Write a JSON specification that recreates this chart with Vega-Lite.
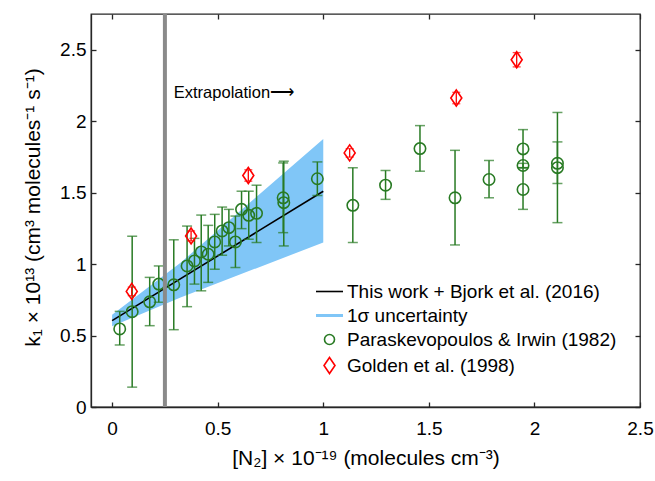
{
  "$schema": "https://vega.github.io/schema/vega-lite/v6.json",
  "width": 549,
  "height": 393,
  "autosize": {"type": "none"},
  "padding": {"left": 91, "top": 14, "right": 15, "bottom": 74},
  "background": "white",
  "config": {
    "font": "Liberation Sans",
    "view": {"stroke": "#262626", "strokeWidth": 1.3},
    "axis": {
      "grid": false,
      "domainColor": "#262626",
      "domainWidth": 1.3,
      "tickColor": "#262626",
      "tickWidth": 1.3,
      "tickSize": -5,
      "labelFontSize": 19,
      "labelColor": "#000000",
      "labelFont": "Liberation Sans",
      "titleFont": "Liberation Sans",
      "titleFontSize": 21,
      "titleFontWeight": "normal",
      "titleColor": "#000000",
      "labelFlush": false,
      "labelOverlap": false,
      "labelBound": false
    }
  },
  "datasets": {
    "green": [
      {"x": 0.036, "y": 0.546, "lo": 0.434, "hi": 0.669, "series": "Paraskevopoulos & Irwin (1982)"},
      {"x": 0.095, "y": 0.667, "lo": 0.139, "hi": 1.195, "series": "Paraskevopoulos & Irwin (1982)"},
      {"x": 0.178, "y": 0.736, "lo": 0.569, "hi": 0.907, "series": "Paraskevopoulos & Irwin (1982)"},
      {"x": 0.221, "y": 0.86, "lo": 0.733, "hi": 0.987, "series": "Paraskevopoulos & Irwin (1982)"},
      {"x": 0.292, "y": 0.855, "lo": 0.541, "hi": 1.17, "series": "Paraskevopoulos & Irwin (1982)"},
      {"x": 0.355, "y": 0.987, "lo": 0.702, "hi": 1.266, "series": "Paraskevopoulos & Irwin (1982)"},
      {"x": 0.39, "y": 1.022, "lo": 0.86, "hi": 1.18, "series": "Paraskevopoulos & Irwin (1982)"},
      {"x": 0.422, "y": 1.085, "lo": 0.813, "hi": 1.343, "series": "Paraskevopoulos & Irwin (1982)"},
      {"x": 0.455, "y": 1.069, "lo": 0.872, "hi": 1.271, "series": "Paraskevopoulos & Irwin (1982)"},
      {"x": 0.486, "y": 1.155, "lo": 0.964, "hi": 1.348, "series": "Paraskevopoulos & Irwin (1982)"},
      {"x": 0.521, "y": 1.232, "lo": 1.062, "hi": 1.399, "series": "Paraskevopoulos & Irwin (1982)"},
      {"x": 0.553, "y": 1.255, "lo": 1.127, "hi": 1.383, "series": "Paraskevopoulos & Irwin (1982)"},
      {"x": 0.584, "y": 1.155, "lo": 0.976, "hi": 1.336, "series": "Paraskevopoulos & Irwin (1982)"},
      {"x": 0.613, "y": 1.383, "lo": 1.248, "hi": 1.51, "series": "Paraskevopoulos & Irwin (1982)"},
      {"x": 0.647, "y": 1.341, "lo": 1.174, "hi": 1.51, "series": "Paraskevopoulos & Irwin (1982)"},
      {"x": 0.684, "y": 1.355, "lo": 1.151, "hi": 1.552, "series": "Paraskevopoulos & Irwin (1982)"},
      {"x": 0.81, "y": 1.464, "lo": 1.22, "hi": 1.708, "series": "Paraskevopoulos & Irwin (1982)"},
      {"x": 0.813, "y": 1.43, "lo": 1.127, "hi": 1.72, "series": "Paraskevopoulos & Irwin (1982)"},
      {"x": 0.972, "y": 1.597, "lo": 1.48, "hi": 1.715, "series": "Paraskevopoulos & Irwin (1982)"},
      {"x": 1.14, "y": 1.411, "lo": 1.151, "hi": 1.674, "series": "Paraskevopoulos & Irwin (1982)"},
      {"x": 1.295, "y": 1.552, "lo": 1.453, "hi": 1.655, "series": "Paraskevopoulos & Irwin (1982)"},
      {"x": 1.458, "y": 1.808, "lo": 1.65, "hi": 1.969, "series": "Paraskevopoulos & Irwin (1982)"},
      {"x": 1.624, "y": 1.464, "lo": 1.134, "hi": 1.796, "series": "Paraskevopoulos & Irwin (1982)"},
      {"x": 1.785, "y": 1.592, "lo": 1.464, "hi": 1.725, "series": "Paraskevopoulos & Irwin (1982)"},
      {"x": 1.946, "y": 1.806, "lo": 1.674, "hi": 1.941, "series": "Paraskevopoulos & Irwin (1982)"},
      {"x": 1.946, "y": 1.69, "lo": 1.675, "hi": 1.705, "series": "Paraskevopoulos & Irwin (1982)"},
      {"x": 1.946, "y": 1.522, "lo": 1.383, "hi": 1.674, "series": "Paraskevopoulos & Irwin (1982)"},
      {"x": 2.109, "y": 1.705, "lo": 1.564, "hi": 1.855, "series": "Paraskevopoulos & Irwin (1982)"},
      {"x": 2.109, "y": 1.675, "lo": 1.29, "hi": 2.061, "series": "Paraskevopoulos & Irwin (1982)"}
    ],
    "red": [
      {"x": 0.093, "y": 0.809, "lo": 0.779, "hi": 0.839, "series": "Golden et al. (1998)"},
      {"x": 0.374, "y": 1.197, "lo": 1.162, "hi": 1.232, "series": "Golden et al. (1998)"},
      {"x": 0.645, "y": 1.62, "lo": 1.58, "hi": 1.66, "series": "Golden et al. (1998)"},
      {"x": 1.125, "y": 1.778, "lo": 1.748, "hi": 1.808, "series": "Golden et al. (1998)"},
      {"x": 1.63, "y": 2.162, "lo": 2.122, "hi": 2.202, "series": "Golden et al. (1998)"},
      {"x": 1.916, "y": 2.43, "lo": 2.38, "hi": 2.48, "series": "Golden et al. (1998)"}
    ],
    "fit": [
      {"x": 0, "y": 0.604, "series": "This work + Bjork et al. (2016)"},
      {"x": 1, "y": 1.51, "series": "This work + Bjork et al. (2016)"}
    ],
    "band": [
      {"x": 0, "lo": 0.565, "hi": 0.645, "series": "1σ uncertainty"},
      {"x": 0.324, "lo": 0.767, "hi": 1.01, "series": "1σ uncertainty"},
      {"x": 1, "lo": 1.151, "hi": 1.876, "series": "1σ uncertainty"}
    ],
    "marker": [{"x": 0.25}],
    "note": [{"x": 0.292, "y": 2.2, "label": "Extrapolation⟶"}]
  },
  "resolve": {"axis": {"x": "independent", "y": "independent"}},
  "layer": [
    {
      "data": {"name": "band"},
      "mark": {"type": "area", "opacity": 1},
      "encoding": {
        "x": {
          "field": "x", "type": "quantitative",
          "scale": {"domain": [-0.1, 2.5], "nice": false, "zero": false},
          "axis": {"values": [0, 0.5, 1, 1.5, 2, 2.5], "format": "~g", "title": "[N₂] × 10⁻¹⁹ (molecules cm⁻³)", "labelPadding": 17, "titleY": 40}
        },
        "y": {
          "field": "lo", "type": "quantitative",
          "scale": {"domain": [0, 2.75], "nice": false, "zero": false},
          "axis": {"values": [0, 0.5, 1, 1.5, 2, 2.5], "format": "~g", "title": "k₁ × 10¹³ (cm³ molecules⁻¹ s⁻¹)", "labelPadding": 10, "titleX": -48, "titleY": 193}
        },
        "y2": {"field": "hi"},
        "color": {
          "field": "series", "type": "nominal",
          "scale": {
            "domain": ["This work + Bjork et al. (2016)", "1σ uncertainty", "Paraskevopoulos & Irwin (1982)", "Golden et al. (1998)"],
            "range": ["#000000", "#80c6f7", "#287a23", "#ff0000"]
          },
          "legend": {
            "orient": "none",
            "legendX": 229,
            "legendY": 268,
            "title": null,
            "direction": "vertical",
            "labelFontSize": 19,
            "labelFont": "Liberation Sans",
            "labelColor": "#000000",
            "labelLimit": 0,
            "symbolSize": 100,
            "labelOffset": 8,
            "rowPadding": 4,
            "padding": 0,
            "symbolStrokeWidth": 1.5,
            "encoding": {
              "symbols": {
                "fill": {"value": "#ffffff"},
                "fillOpacity": {"value": 0},
                "stroke": {"value": {"signal": "scale('color', datum.value)"}},
                "strokeWidth": {"value": {"signal": "datum.value === '1σ uncertainty' ? 3 : 1.6"}},
                "shape": {"value": {"signal": "datum.value === 'Paraskevopoulos & Irwin (1982)' ? 'circle' : datum.value === 'Golden et al. (1998)' ? 'M0,-1.6L1.1,0L0,1.6L-1.1,0Z' : 'M-2.7,0L2.7,0'"}},
                "opacity": {"value": 1}
              }
            }
          }
        }
      }
    },
    {
      "data": {"name": "fit"},
      "mark": {"type": "line", "strokeWidth": 1.6},
      "encoding": {
        "x": {"field": "x", "type": "quantitative", "scale": {"domain": [-0.1, 2.5], "nice": false, "zero": false},
          "axis": {"orient": "top", "values": [0, 0.5, 1, 1.5, 2, 2.5], "labels": false, "title": null, "domain": false}},
        "y": {"field": "y", "type": "quantitative", "scale": {"domain": [0, 2.75], "nice": false, "zero": false},
          "axis": {"orient": "right", "values": [0, 0.5, 1, 1.5, 2, 2.5], "labels": false, "title": null, "domain": false}},
        "color": {"field": "series", "type": "nominal"}
      }
    },
    {
      "data": {"name": "green"},
      "mark": {"type": "errorbar", "color": "#287a23", "thickness": 1.5, "ticks": {"size": 10, "thickness": 1.5, "color": "#287a23"}},
      "encoding": {
        "x": {"field": "x", "type": "quantitative", "axis": null},
        "y": {"field": "lo", "type": "quantitative", "axis": null},
        "y2": {"field": "hi"}
      }
    },
    {
      "data": {"name": "green"},
      "mark": {"type": "point", "shape": "circle", "filled": false, "size": 130, "strokeWidth": 1.6, "opacity": 1},
      "encoding": {
        "x": {"field": "x", "type": "quantitative", "axis": null},
        "y": {"field": "y", "type": "quantitative", "axis": null},
        "color": {"field": "series", "type": "nominal"}
      }
    },
    {
      "data": {"name": "marker"},
      "mark": {"type": "rule", "color": "#8a8a8a", "strokeWidth": 4},
      "encoding": {
        "x": {"field": "x", "type": "quantitative", "axis": null}
      }
    },
    {
      "data": {"name": "red"},
      "mark": {"type": "errorbar", "color": "#ff0000", "thickness": 1.3, "ticks": {"size": 8, "thickness": 1.3, "color": "#ff0000"}},
      "encoding": {
        "x": {"field": "x", "type": "quantitative", "axis": null},
        "y": {"field": "lo", "type": "quantitative", "axis": null},
        "y2": {"field": "hi"}
      }
    },
    {
      "data": {"name": "red"},
      "mark": {"type": "point", "shape": "M0,-1.6L1.1,0L0,1.6L-1.1,0Z", "filled": false, "size": 100, "strokeWidth": 1.6, "opacity": 1},
      "encoding": {
        "x": {"field": "x", "type": "quantitative", "axis": null},
        "y": {"field": "y", "type": "quantitative", "axis": null},
        "color": {"field": "series", "type": "nominal"}
      }
    },
    {
      "data": {"name": "note"},
      "mark": {"type": "text", "align": "left", "baseline": "middle", "fontSize": 16.5, "font": "Liberation Sans", "color": "#000000"},
      "encoding": {
        "x": {"field": "x", "type": "quantitative", "axis": null},
        "y": {"field": "y", "type": "quantitative", "axis": null},
        "text": {"field": "label"}
      }
    }
  ]
}
